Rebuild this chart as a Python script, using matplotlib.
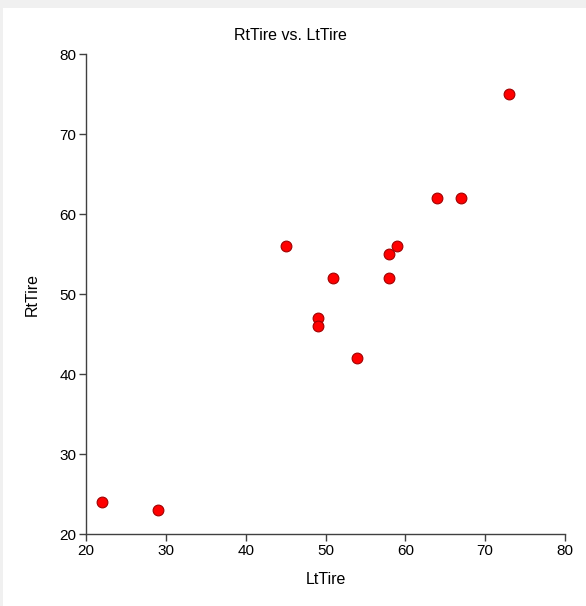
import matplotlib.pyplot as plt
from matplotlib.patches import Rectangle

# --- DATA ---
lt_tire = [22, 29, 45, 49, 49, 51, 54, 58, 58, 59, 64, 67, 73]
rt_tire = [24, 23, 56, 47, 46, 52, 42, 55, 52, 56, 62, 62, 75]

x_ticks = [20, 30, 40, 50, 60, 70, 80]
y_ticks = [20, 30, 40, 50, 60, 70, 80]

plt.rcParams["font.family"] = ["Liberation Sans", "DejaVu Sans"]

fig = plt.figure(figsize=(5.86, 6.06), dpi=100)

# light gray frame at top and left edges
fig.patches.append(Rectangle((0, 1 - 8 / 606), 1, 8 / 606, transform=fig.transFigure,
                             facecolor="#f0f0f0", edgecolor="none", zorder=0))
fig.patches.append(Rectangle((0, 0), 3 / 586, 1, transform=fig.transFigure,
                             facecolor="#f0f0f0", edgecolor="none", zorder=0))

ax = fig.add_axes([86 / 586, 1 - 534 / 606, (565 - 86) / 586, (534 - 54) / 606])

ax.scatter(lt_tire, rt_tire, s=60, c="#ff0000", edgecolors="#a00000",
           linewidths=0.8, zorder=3, clip_on=False)

ax.set_xlim(20, 80)
ax.set_ylim(20, 80)
ax.set_xticks(x_ticks)
ax.set_yticks(y_ticks)

for side in ["top", "right"]:
    ax.spines[side].set_visible(False)
for side in ["left", "bottom"]:
    ax.spines[side].set_color("#404040")
    ax.spines[side].set_linewidth(1.0)

ax.tick_params(direction="out", length=5, width=1, color="#404040",
               labelsize=11, labelcolor="black", pad=2)

fig.text(290 / 586, 1 - 35 / 606, "RtTire vs. LtTire", fontsize=11.5,
         ha="center", va="center")
ax.set_xlabel("LtTire", fontsize=11.5, labelpad=10)
ax.set_ylabel("RtTire", fontsize=11.5, labelpad=14)

plt.savefig("out.png", dpi=100)
